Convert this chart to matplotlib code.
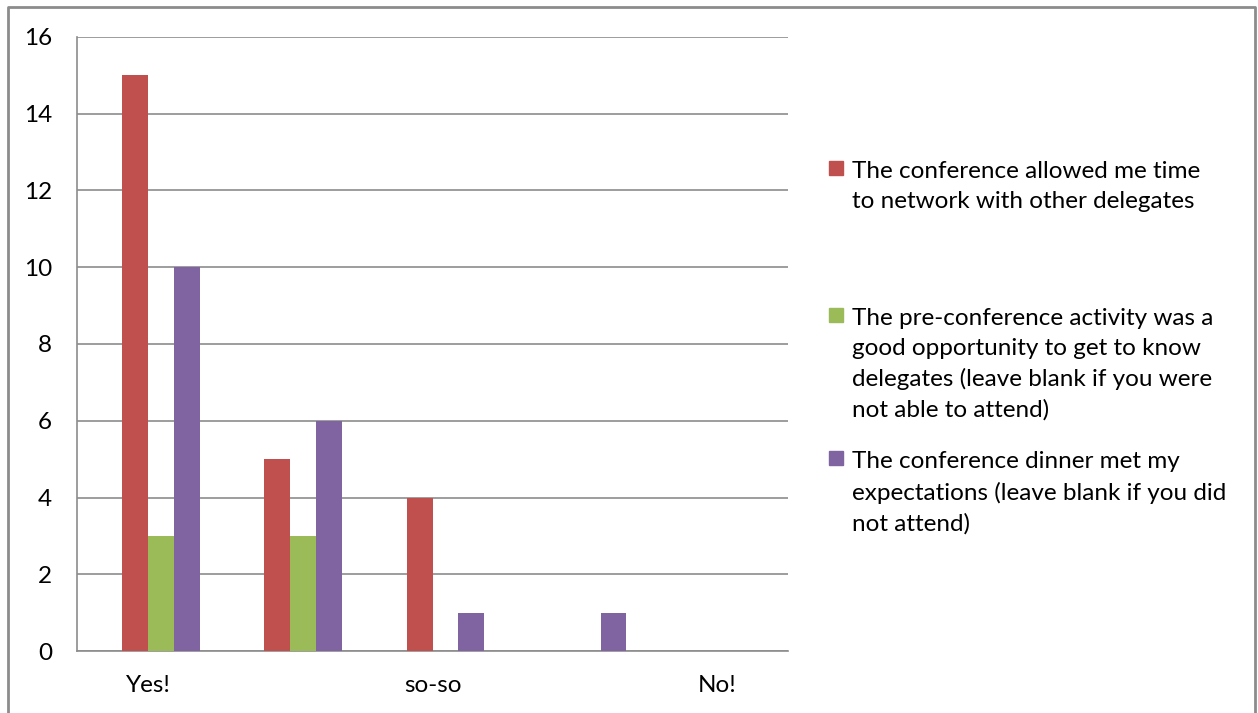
import matplotlib.pyplot as plt
from matplotlib.patches import Rectangle

# datos
categories = ["Yes!", "", "so-so", "", "No!"]
network = [15, 5, 4, 0, 0]
pre_conf = [3, 3, 0, 0, 0]
dinner = [10, 6, 1, 1, 0]
series_labels = [
    "The conference allowed me time\nto network with other delegates",
    "The pre-conference activity was a\ngood opportunity to get to know\ndelegates (leave blank if you were\nnot able to attend)",
    "The conference dinner met my\nexpectations (leave blank if you did\nnot attend)",
]
colors = ["#C0504D", "#9BBB59", "#8064A2"]
yticks = [0, 2, 4, 6, 8, 10, 12, 14, 16]

plt.rcParams['font.family'] = ['Lato', 'DejaVu Sans']

W, H = 1258, 713
fig = plt.figure(figsize=(W / 100, H / 100), dpi=100)

# borde exterior del grafico (sin borde inferior)
fig.add_artist(plt.Line2D([8 / W, 8 / W, 1255 / W, 1255 / W],
                          [0, 1 - 7 / H, 1 - 7 / H, 0],
                          transform=fig.transFigure, color="#8c8c8c", lw=2))

ax = fig.add_axes([77 / W, 1 - 651 / H, (788 - 77) / W, (651 - 37) / H])

# 4 huecos por categoria, el primero vacio (como en Excel)
n_slots = 4
gap = 1.5
w = 1.0 / (n_slots + gap)
x = list(range(len(categories)))
for i, (vals, c) in enumerate(zip([network, pre_conf, dinner], colors)):
    slot = i + 1
    off = (slot - (n_slots - 1) / 2) * w
    ax.bar([xi + off for xi in x], vals, width=w, color=c, zorder=3)

ax.set_xlim(-0.5, len(categories) - 0.5)
ax.set_ylim(0, 16)
ax.set_yticks(yticks)
ax.set_xticks(x)
ax.set_xticklabels(categories)
ax.yaxis.grid(True, color="#8c8c8c", lw=1.2, zorder=0)
for s in ["top", "right"]:
    ax.spines[s].set_visible(False)
ax.spines["left"].set_color("#8c8c8c")
ax.spines["bottom"].set_color("#8c8c8c")
ax.spines["left"].set_linewidth(1.2)
ax.spines["bottom"].set_linewidth(1.2)
ax.tick_params(axis="both", length=0, labelsize=17.5, colors="black")
ax.tick_params(axis="y", pad=18)
ax.tick_params(axis="x", pad=17)

# leyenda manual
sq_y = [168, 315, 458]
for lab, c, yc in zip(series_labels, colors, sq_y):
    fig.add_artist(Rectangle((829 / W, 1 - (yc + 7) / H), 14 / W, 14 / H,
                             transform=fig.transFigure, color=c))
    fig.text(852 / W, 1 - (yc - 7) / H, lab, fontsize=17.5, va="top",
             ha="left", linespacing=1.52)

fig.savefig("out.png", dpi=100)
